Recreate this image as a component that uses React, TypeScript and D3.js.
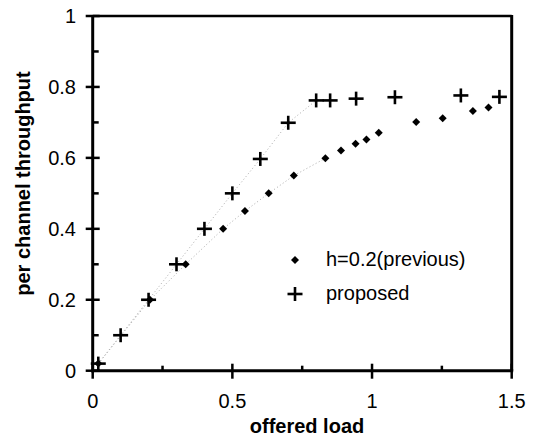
import React from "react";
import * as d3 from "d3";

const xTicks = [0, 0.5, 1, 1.5];
const xMinorTicks = [0.25, 0.75, 1.25];
const yTicks = [0, 0.2, 0.4, 0.6, 0.8, 1];
const yMinorTicks = [0.1, 0.3, 0.5, 0.7, 0.9];
const xTickLabels = ["0", "0.5", "1", "1.5"];
const yTickLabels = ["0", "0.2", "0.4", "0.6", "0.8", "1"];

const proposedX = [0.02, 0.1, 0.2, 0.3, 0.4, 0.5, 0.6, 0.7, 0.8, 0.85, 0.943, 1.082, 1.318, 1.456];
const proposedY = [0.02, 0.1, 0.2, 0.3, 0.4, 0.5, 0.597, 0.699, 0.762, 0.762, 0.767, 0.771, 0.776, 0.772];

const previousX = [0.02, 0.205, 0.333, 0.467, 0.545, 0.63, 0.72, 0.833, 0.889, 0.941, 0.98, 1.024, 1.158, 1.253, 1.361, 1.417];
const previousY = [0.02, 0.2, 0.3, 0.4, 0.45, 0.5, 0.55, 0.599, 0.621, 0.64, 0.652, 0.671, 0.701, 0.712, 0.732, 0.742];

const seriesNames = ["h=0.2(previous)", "proposed"];
const xTitle = "offered load";
const yTitle = "per channel throughput";

export default function App() {
  const W = 536, H = 436;
  const x = d3.scaleLinear().domain([0, 1.5]).range([92.7, 511.7]);
  const y = d3.scaleLinear().domain([0, 1]).range([370.7, 16]);

  const proposed = proposedX.map((v, i) => [v, proposedY[i]] as [number, number]);
  const previous = previousX.map((v, i) => [v, previousY[i]] as [number, number]);
  const line = d3.line<[number, number]>().x(d => x(d[0])).y(d => y(d[1]));

  const font = "Liberation Sans, Arial, sans-serif";
  const diamond = (cx: number, cy: number, r = 4) =>
    `M${cx},${cy - r}L${cx + r},${cy}L${cx},${cy + r}L${cx - r},${cy}Z`;
  const plus = (cx: number, cy: number, k: string | number) => (
    <g key={k} stroke="#000" strokeWidth={2.6}>
      <line x1={cx - 7.5} x2={cx + 7.5} y1={cy} y2={cy} />
      <line x1={cx} x2={cx} y1={cy - 7} y2={cy + 7} />
    </g>
  );

  return (
    <svg width={W} height={H} style={{ position: "absolute", left: 0, top: 0, background: "#fff" }}>
      <rect width={W} height={H} fill="#fff" />
      {/* trend dotted lines */}
      <path d={line(proposed.filter(d => d[0] <= 0.81)) || ""} fill="none" stroke="#aaa" strokeWidth={1} strokeDasharray="1,2.5" />
      <path d={line(previous.filter(d => d[0] <= 0.84)) || ""} fill="none" stroke="#aaa" strokeWidth={1} strokeDasharray="1,2.5" />

      {/* frame */}
      <line x1={x(0)} x2={x(1.5)} y1={y(1)} y2={y(1)} stroke="#000" strokeWidth={2.5} />
      <line x1={x(1.5)} x2={x(1.5)} y1={y(1) - 1} y2={y(0)} stroke="#000" strokeWidth={3} />
      <line x1={x(0)} x2={x(0)} y1={y(1) - 1} y2={y(0) + 1.5} stroke="#000" strokeWidth={3} />
      <line x1={x(0) - 1.5} x2={x(1.5) + 1.5} y1={y(0)} y2={y(0)} stroke="#000" strokeWidth={3} />

      {/* y ticks */}
      {yTicks.map((t, i) => (
        <g key={"yt" + i}>
          <line x1={x(0) - 7} x2={x(0) + 7} y1={y(t)} y2={y(t)} stroke="#000" strokeWidth={2.5} />
          <text x={76} y={y(t)} dy="0.35em" textAnchor="end" fontFamily={font} fontSize={20}>{yTickLabels[i]}</text>
        </g>
      ))}
      {yMinorTicks.map((t, i) => (
        <line key={"ym" + i} x1={x(0)} x2={x(0) + 6} y1={y(t)} y2={y(t)} stroke="#000" strokeWidth={2.5} />
      ))}

      {/* x ticks */}
      {xTicks.map((t, i) => (
        <g key={"xt" + i}>
          <line x1={x(t)} x2={x(t)} y1={y(0) - 7} y2={y(0) + 8} stroke="#000" strokeWidth={2.5} />
          <text x={x(t)} y={408} textAnchor="middle" fontFamily={font} fontSize={20}>{xTickLabels[i]}</text>
        </g>
      ))}
      {xMinorTicks.map((t, i) => (
        <line key={"xm" + i} x1={x(t)} x2={x(t)} y1={y(0)} y2={y(0) - 5} stroke="#000" strokeWidth={2.5} />
      ))}

      {/* markers */}
      {previous.map((d, i) => (
        <path key={"pv" + i} d={diamond(x(d[0]), y(d[1]))} fill="#000" />
      ))}
      {proposed.map((d, i) => plus(x(d[0]), y(d[1]), "pp" + i))}

      {/* legend */}
      <path d={diamond(295, 260)} fill="#000" />
      <text x={326} y={266} fontFamily={font} fontSize={20}>{seriesNames[0]}</text>
      {plus(295, 294, "lg")}
      <text x={326} y={300} fontFamily={font} fontSize={20}>{seriesNames[1]}</text>

      {/* titles */}
      <text x={307} y={433} textAnchor="middle" fontFamily={font} fontSize={20} fontWeight="bold">{xTitle}</text>
      <text transform={`translate(30,183.5) rotate(-90)`} textAnchor="middle" fontFamily={font} fontSize={20} fontWeight="bold">{yTitle}</text>
    </svg>
  );
}
